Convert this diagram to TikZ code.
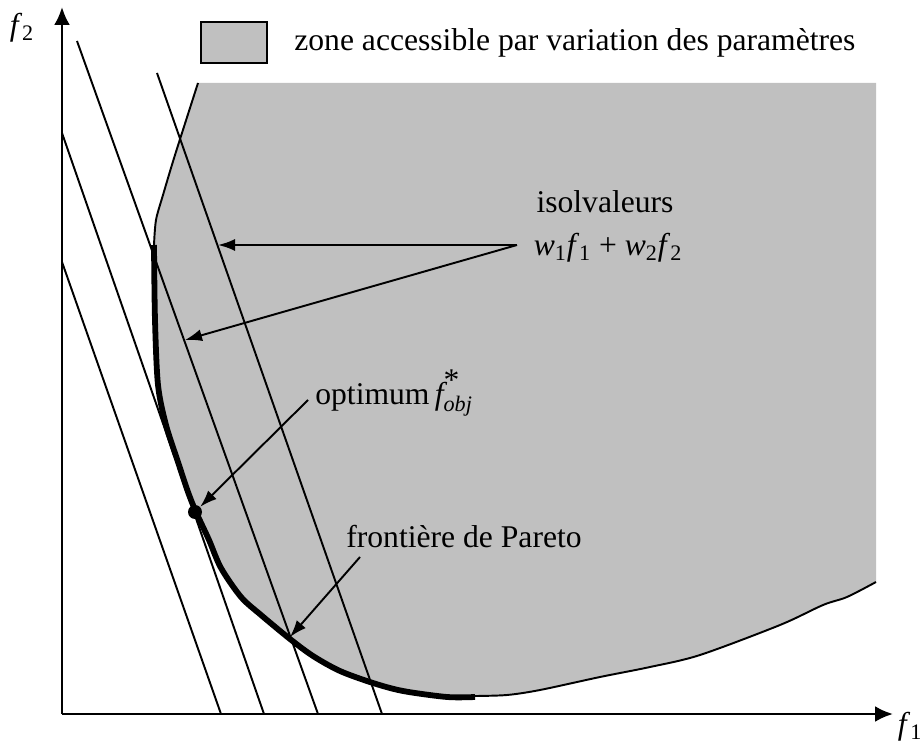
\documentclass[tikz,border=0pt]{standalone}
\usepackage{amsmath}
\usepackage{fontspec}
\setmainfont{Liberation Serif}
\usetikzlibrary{arrows.meta}
\definecolor{zonegrise}{RGB}{192,192,192}

\begin{document}
\begin{tikzpicture}[x=0.02cm, y=-0.02cm,
    texte/.style={font=\fontsize{18}{22}\selectfont, inner sep=0pt},
    fleche/.style={line width=1.1pt, -{Latex[length=0.34cm, width=0.24cm]}},
    axe/.style={line width=1.5pt, -{Latex[length=0.36cm, width=0.32cm]}},
    isovaleur/.style={line width=1.1pt},
    bord/.style={line width=1.1pt}]
        \useasboundingbox (0,0) rectangle (922,742);

        % Draw accessible zone
        \fill[zonegrise] plot[smooth] coordinates {(154,245) (155,320) (158,385) (166,425) (178,462) (188,492) (196,512) (209,540) (221,568) (241,597) (261,615) (290,639) (313,656) (340,671) (373,683) (403,691) (447,697) (475,697)}
            -- plot[smooth] coordinates {(475,696) (507,695) (540,690) (600,677) (650,667) (700,655) (780,625) (823,605) (847,597) (876,582)}
            -- (876,83) -- (198,83)
            -- plot[smooth] coordinates {(198,83) (175,155) (163,195) (156,220) (154,245)} -- cycle;

        % Draw isovalue lines
        \draw[isovaleur] (62,262) -- (221,714);
        \draw[isovaleur] (62,133) -- (264,714);
        \draw[isovaleur] (77,41) -- (318,714);
        \draw[isovaleur] (157,73) -- (382,714);

        % Draw zone boundary
        \draw[bord] plot[smooth] coordinates {(198,83) (175,155) (163,195) (156,220) (154,245)};
        \draw[bord] plot[smooth] coordinates {(475,696) (507,695) (540,690) (600,677) (650,667) (700,655) (780,625) (823,605) (847,597) (876,582)};
        % Draw Pareto front
        \draw[line width=3.3pt] plot[smooth] coordinates {(154,245) (155,320) (158,385) (166,425) (178,462) (188,492) (196,512) (209,540) (221,568) (241,597) (261,615) (290,639) (313,656) (340,671) (373,683) (403,691) (447,697) (475,697)};

        % Draw axes
        \coordinate (O) at (62,714);
        \coordinate (haut) at (62,7);
        \coordinate (droite) at (893,714);
        \draw[axe] (O) -- (haut);
        \draw[axe] (O) -- (droite);
        \node[texte] (lf2) at (22,28) {\textit{f}\textsubscript{2}};
        \node[texte] (lf1) at (910,727) {\textit{f}\textsubscript{1}};

        % Add legend
        \node[draw, line width=1.6pt, fill=zonegrise, minimum width=1.32cm, minimum height=0.82cm] (carre) at (234,42.5) {};
        \node[texte, anchor=west] (legende) at (294,43) {zone accessible par variation des paramètres};

        % Add labels
        \node[texte] (isoval) at (605,202) {isolvaleurs};
        \node[texte] (somme) at (608,248) {\textit{w}\textsubscript{1}\textit{f}\textsubscript{1} + \textit{w}\textsubscript{2}\textit{f}\textsubscript{2}};
        \node[texte, anchor=west] (optimum) at (315,393) {optimum\,$\textit{f}^{\text{\fontsize{18}{18}\selectfont *}}_{\textit{obj}}$};
        \node[texte, anchor=west] (pareto) at (346,537) {frontière de Pareto};

        % Draw optimum point
        \node[circle, fill, inner sep=0pt, minimum size=0.28cm] (pt) at (195,512) {};

        % Draw arrows
        \coordinate (depart) at (517,245);
        \coordinate (iso4) at (218,245);
        \coordinate (iso3) at (185,340);
        \draw[fleche] (depart) -- (iso4);
        \draw[fleche] (depart) -- (iso3);
        \coordinate (depopt) at (308,400);
        \draw[fleche] (depopt) -- (pt);
        \coordinate (deppar) at (360,557);
        \coordinate (front) at (290,637);
        \draw[fleche] (deppar) -- (front);
    \end{tikzpicture}
\end{document}
